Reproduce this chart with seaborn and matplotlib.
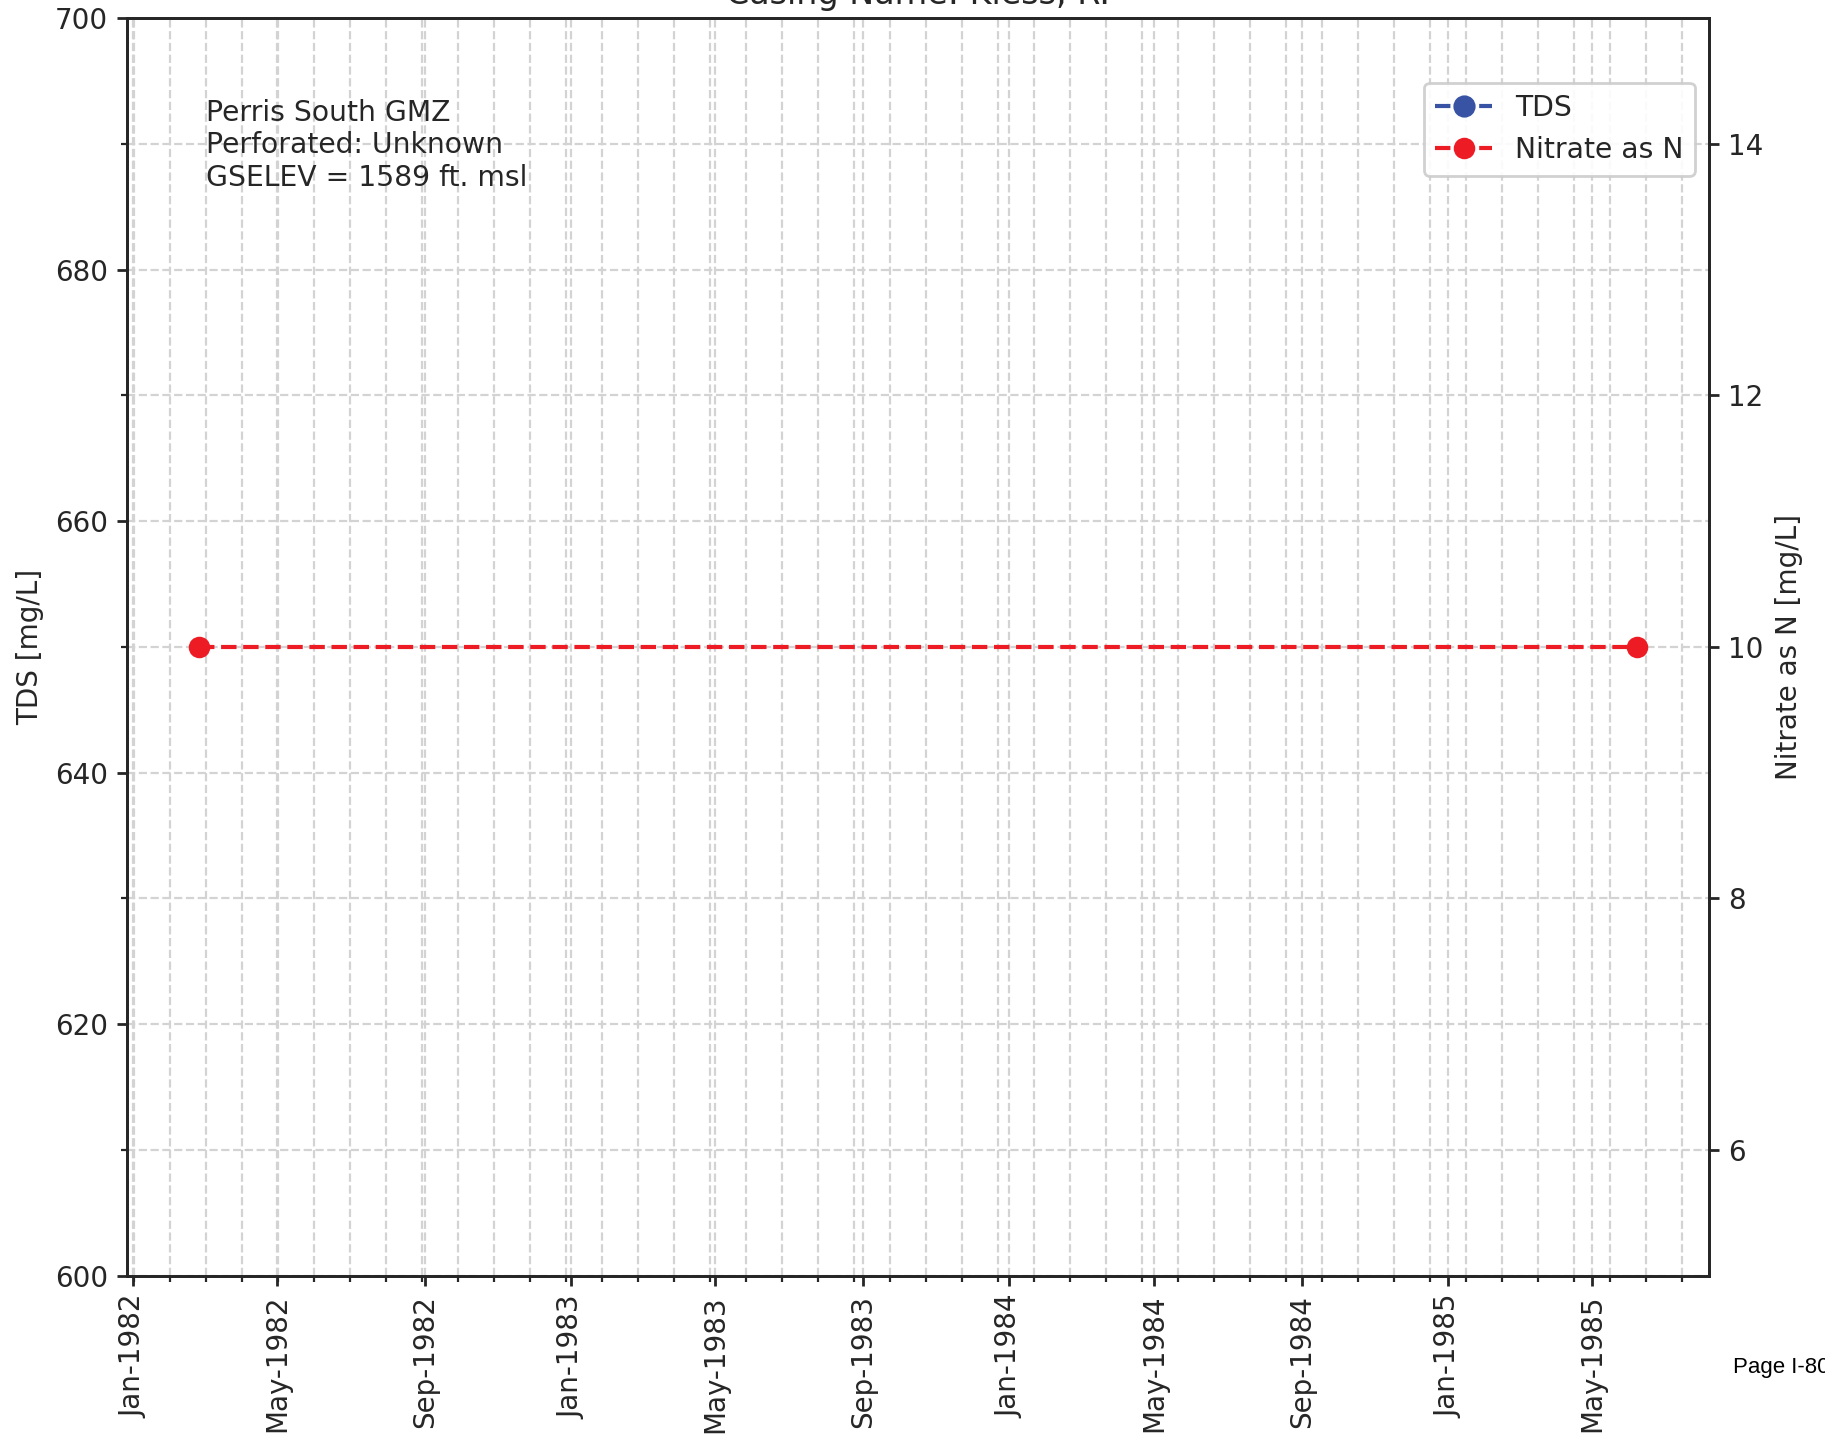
import matplotlib
matplotlib.use("Agg")
import matplotlib.pyplot as plt
import matplotlib.dates as mdates
from matplotlib.ticker import MultipleLocator
import pandas as pd
import seaborn as sns

# ---- data ----
title = "Casing Name: Kiess, R."
info_lines = ["Perris South GMZ", "Perforated: Unknown", "GSELEV = 1589 ft. msl"]
nitrate_dates = pd.to_datetime(["1982-02-25", "1985-06-07"])
nitrate_values = [10.0, 10.0]
tds_dates = []
tds_values = []
tds_ylim = (600, 700)
nitrate_ylim = (5, 15)
series_labels = ["TDS", "Nitrate as N"]
tds_label = "TDS [mg/L]"
nitrate_label = "Nitrate as N [mg/L]"
page_label = "Page I-80"

TDS_COLOR = "#3953a4"
NIT_COLOR = "#ed1c24"

sns.set_theme(style="ticks")
plt.rcParams.update({
    "font.family": ["DejaVu Sans"],
    "font.size": 10,
    "axes.labelsize": 10,
    "axes.titlesize": 12,
    "xtick.labelsize": 10,
    "ytick.labelsize": 10,
    "legend.fontsize": 10.2,
    "lines.linewidth": 1.5,
    "lines.markersize": 7,
    "axes.linewidth": 1.0,
    "xtick.major.size": 3.5,
    "ytick.major.size": 3.5,
    "xtick.major.width": 1.0,
    "ytick.major.width": 1.0,
    "xtick.minor.size": 2.0,
    "ytick.minor.size": 2.0,
    "xtick.minor.width": 0.8,
    "ytick.minor.width": 0.8,
    "axes.edgecolor": "#262626",
    "text.color": "#262626",
    "axes.labelcolor": "#262626",
    "xtick.color": "#262626",
    "ytick.color": "#262626",
})

fig = plt.figure(figsize=(9.125, 7.19), dpi=200)
ax1 = fig.add_axes([0.0698, 0.1130, 0.8665, 0.8743])
ax2 = ax1.twinx()

# Nitrate series via seaborn on the right axis
sns.lineplot(x=nitrate_dates, y=nitrate_values, ax=ax2, color=NIT_COLOR,
             marker="o", linestyle="--", linewidth=1.5, markersize=7,
             markeredgecolor=NIT_COLOR, markeredgewidth=0.75, errorbar=None)
nit_line = ax2.lines[0]

# TDS series (no samples) on the left axis
tds_line, = ax1.plot(tds_dates, tds_values, color=TDS_COLOR, marker="o",
                     linestyle="--", linewidth=1.5, markersize=7)

ax1.set_ylim(*tds_ylim)
ax2.set_ylim(*nitrate_ylim)
ax1.yaxis.set_major_locator(MultipleLocator(20))
ax1.yaxis.set_minor_locator(MultipleLocator(10))
ax2.yaxis.set_major_locator(MultipleLocator(2))
ax2.yaxis.set_minor_locator(plt.NullLocator())

ax1.xaxis.set_major_locator(mdates.MonthLocator(bymonth=[1, 5, 9]))
ax1.xaxis.set_major_formatter(mdates.DateFormatter("%b-%Y"))
ax1.xaxis.set_minor_locator(MultipleLocator(30, offset=4))
ax1.tick_params(axis="x", which="major", rotation=90)

ax1.grid(True, which="both", axis="both", linestyle="--", color="#d3d3d3",
         linewidth=0.8)
ax2.grid(False)
ax1.set_axisbelow(True)

ax1.set_xlabel("")
ax2.set_xlabel("")
ax1.set_ylabel(tds_label)
ax2.set_ylabel(nitrate_label)
ax1.set_title(title, pad=5)

for sp in ax2.spines.values():
    sp.set_linewidth(1.0)

ax1.text(0.05, 0.936, "\n".join(info_lines), transform=ax1.transAxes,
         ha="left", va="top", fontsize=10.2)

ax2.legend([tds_line, nit_line], series_labels, loc="upper right",
           bbox_to_anchor=(1.0, 0.96), frameon=True, fancybox=True,
           edgecolor="#cccccc", framealpha=0.9)

fig.text(0.9498, 0.0454, page_label, family=["Liberation Sans"], fontsize=8,
         ha="left", va="baseline", color="black")

fig.savefig("out.png", dpi=200)
